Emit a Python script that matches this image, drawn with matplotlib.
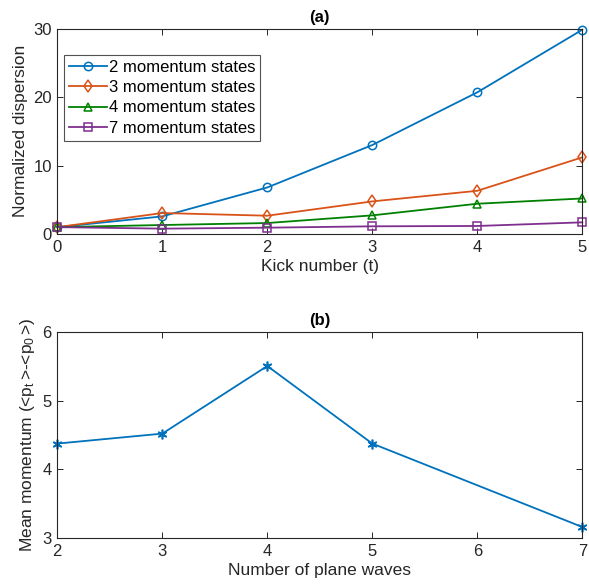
import matplotlib
matplotlib.use("Agg")
import matplotlib.pyplot as plt

plt.rcParams['font.family'] = ['Liberation Sans', 'DejaVu Sans']
plt.rcParams['mathtext.fontset'] = 'custom'
plt.rcParams['mathtext.rm'] = 'Liberation Sans'
plt.rcParams['mathtext.it'] = 'Liberation Sans'

kicks = [0, 1, 2, 3, 4, 5]
s2 = [1.0, 2.57, 6.8, 13.0, 20.7, 29.85]
s3 = [1.0, 3.06, 2.67, 4.76, 6.31, 11.2]
s4 = [1.0, 1.31, 1.6, 2.72, 4.42, 5.19]
s7 = [1.0, 0.78, 0.92, 1.12, 1.17, 1.7]
labels_a = ['2 momentum states', '3 momentum states', '4 momentum states', '7 momentum states']

waves = [2, 3, 4, 5, 7]
mean_mom = [4.375, 4.52, 5.505, 4.375, 3.16]

c_blue = (0, 0.447, 0.741)
c_orange = (0.85, 0.325, 0.098)
c_green = (0, 0.5, 0)
c_purple = (0.494, 0.184, 0.556)
axcol = (0.15, 0.15, 0.15)

fig = plt.figure(figsize=(5.89, 5.87), dpi=100)
ax1 = fig.add_axes([0.0973, 0.6014, 0.8913, 0.3497])
ax2 = fig.add_axes([0.0973, 0.0835, 0.8913, 0.3509])

series = [(s2, c_blue, 'o'), (s3, c_orange, 'd'), (s4, c_green, '^'), (s7, c_purple, 's')]
for (vals, col, mk), lab in zip(series, labels_a):
    ax1.plot(kicks, vals, color=col, marker=mk, markersize=6, markerfacecolor='none',
             markeredgewidth=1.1, linewidth=1.3, label=lab, clip_on=False)

ax1.set_xlim(0, 5)
ax1.set_ylim(0, 30)
ax1.set_xticks([0, 1, 2, 3, 4, 5])
ax1.set_yticks([0, 10, 20, 30])
ax1.set_xlabel('Kick number (t)', fontsize=12.5, color=axcol, labelpad=3)
ax1.set_ylabel('Normalized dispersion', fontsize=12.5, color=axcol, labelpad=4)
ax1.set_title('(a)', fontsize=12, fontweight='bold', pad=5)
leg = ax1.legend(loc='upper left', bbox_to_anchor=(0.012, 0.873), fontsize=12,
                 frameon=True, fancybox=False, edgecolor=axcol, handlelength=2.3,
                 handletextpad=0.1, borderpad=0.3, labelspacing=0.32, borderaxespad=0)
leg.get_frame().set_linewidth(0.8)

ax2.plot(waves, mean_mom, color=c_blue, marker=(6, 2, 0), markersize=7,
         markeredgewidth=1.2, linewidth=1.3, clip_on=False)
ax2.set_xlim(2, 7)
ax2.set_ylim(3, 6)
ax2.set_xticks([2, 3, 4, 5, 6, 7])
ax2.set_yticks([3, 4, 5, 6])
ax2.set_xlabel('Number of plane waves', fontsize=12.5, color=axcol, labelpad=3)
ax2.set_ylabel('Mean momentum (<p$_{\\mathrm{t}}\\,$>-<p$_{\\mathrm{0}}\\,$>)', fontsize=12.5, color=axcol, labelpad=4)
ax2.set_title('(b)', fontsize=12, fontweight='bold', pad=5)

for ax in (ax1, ax2):
    ax.tick_params(direction='in', top=True, right=True, labelsize=12, colors=axcol,
                   length=4, width=0.7, pad=4)
    for sp in ax.spines.values():
        sp.set_color(axcol)
        sp.set_linewidth(0.8)

fig.savefig('out.png', dpi=100)
